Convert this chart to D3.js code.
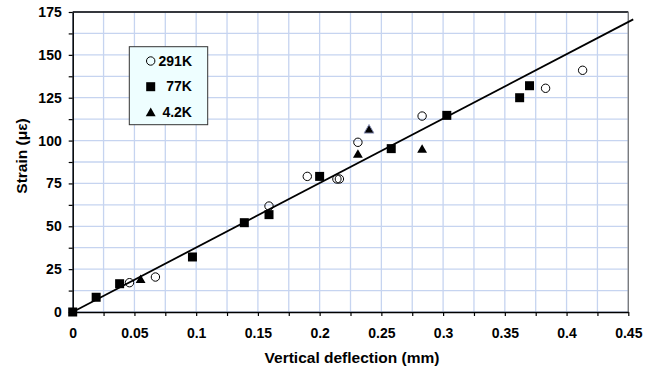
<!DOCTYPE html>
<html>
<head>
<meta charset="utf-8">
<script src="https://cdn.jsdelivr.net/npm/d3@7"></script>
<style>
  body { margin: 0; background: #fff; }
  svg { display: block; font-family: "Liberation Sans", Arial, sans-serif; font-weight: bold; }
</style>
</head>
<body>
<svg id="chart" width="669" height="369"></svg>
<script>
// data
var x291 = [0.046, 0.067, 0.159, 0.190, 0.214, 0.216, 0.231, 0.283, 0.383, 0.413];
var y291 = [17.1, 20.4, 61.8, 79.1, 77.6, 77.6, 99.0, 114.3, 130.5, 141.0];
var x77 = [0, 0.019, 0.038, 0.097, 0.139, 0.159, 0.200, 0.258, 0.303, 0.362, 0.370];
var y77 = [0, 8.6, 16.5, 32.1, 52.1, 56.8, 79.1, 95.3, 114.7, 125.0, 132.0];
var x4 = [0.055, 0.231, 0.240, 0.283];
var y4 = [19.2, 92.2, 106.6, 95.1];
var fitX = [0, 0.454];
var fitY = [0, 170.7];
var xTicks = [0, 0.05, 0.1, 0.15, 0.2, 0.25, 0.3, 0.35, 0.4, 0.45];
var yTicks = [0, 25, 50, 75, 100, 125, 150, 175];
var legendLabels = ["291K", "77K", "4.2K"];

var margin = {top: 12, right: 40.7, bottom: 57, left: 72.7},
    width = 669 - margin.left - margin.right,
    height = 369 - margin.top - margin.bottom;

var svg = d3.select("#chart");
var g = svg.append("g")
    .attr("transform", "translate(" + margin.left + "," + margin.top + ")");

var x = d3.scaleLinear().domain([0, 0.45]).range([0, width]);
var y = d3.scaleLinear().domain([0, 175]).range([height, 0]);

// grid every half major step
var xMinor = d3.range(0, 0.4501, 0.025);
var yMinor = d3.range(0, 175.01, 12.5);

g.selectAll(".vgrid").data(xMinor).enter().append("line")
    .attr("x1", d => x(d)).attr("x2", d => x(d))
    .attr("y1", 0).attr("y2", height)
    .attr("stroke", "#c6d4f0").attr("stroke-width", 1.3);
g.selectAll(".hgrid").data(yMinor).enter().append("line")
    .attr("x1", 0).attr("x2", width)
    .attr("y1", d => y(d)).attr("y2", d => y(d))
    .attr("stroke", "#c6d4f0").attr("stroke-width", 1.3);

// frame
g.append("line").attr("x1", 0).attr("x2", width).attr("y1", 0).attr("y2", 0)
    .attr("stroke", "#000").attr("stroke-width", 1.3);
g.append("line").attr("x1", width).attr("x2", width).attr("y1", 0).attr("y2", height)
    .attr("stroke", "#777").attr("stroke-width", 1.3);

// axes
var xAxis = g.append("g")
    .attr("transform", "translate(0," + height + ")")
    .call(d3.axisBottom(x).tickValues(xMinor).tickSize(4).tickSizeOuter(0).tickPadding(12)
        .tickFormat(d => xTicks.some(t => Math.abs(t - d) < 1e-9) ? d3.format("~g")(d) : ""));
var yAxis = g.append("g")
    .call(d3.axisLeft(y).tickValues(yMinor).tickSize(4).tickSizeOuter(0).tickPadding(7)
        .tickFormat(d => yTicks.indexOf(d) >= 0 ? d : ""));
[xAxis, yAxis].forEach(function(a) {
    a.select(".domain").attr("stroke", "#000").attr("stroke-width", 1.5);
    a.selectAll(".tick line").attr("stroke", "#000").attr("stroke-width", 1.2);
    a.selectAll(".tick text").attr("fill", "#000")
        .style("font-size", "14px").style("font-weight", "bold")
        .style("font-family", "'Liberation Sans', Arial, sans-serif");
});

// fit line
g.append("line")
    .attr("x1", x(fitX[0])).attr("y1", y(fitY[0]))
    .attr("x2", x(fitX[1])).attr("y2", y(fitY[1]))
    .attr("stroke", "#000").attr("stroke-width", 1.8);

var tri = d3.symbol().type(d3.symbolTriangle).size(42);

// 77K squares
g.selectAll(".sq").data(x77).enter().append("rect")
    .attr("x", (d, i) => x(d) - 4.5).attr("y", (d, i) => y(y77[i]) - 4.5)
    .attr("width", 9).attr("height", 9).attr("fill", "#000");

// 4.2K triangles
g.selectAll(".tri").data(x4).enter().append("path")
    .attr("d", tri)
    .attr("transform", (d, i) => "translate(" + x(d) + "," + (y(y4[i]) + 1) + ")")
    .attr("fill", "#000")
    .attr("stroke", (d, i) => i === 2 ? "#8c93b8" : "none").attr("stroke-width", 1);

// 291K circles
g.selectAll(".circ").data(x291).enter().append("circle")
    .attr("cx", d => x(d)).attr("cy", (d, i) => y(y291[i]))
    .attr("r", 4.2).attr("fill", "none").attr("stroke", "#000").attr("stroke-width", 1);

// legend
var lg = svg.append("g").attr("transform", "translate(129.3,46.7)");
lg.append("rect").attr("width", 78.4).attr("height", 78)
    .attr("fill", "#eefeff").attr("stroke", "#333").attr("stroke-width", 1);
lg.append("circle").attr("cx", 21.4).attr("cy", 14.3).attr("r", 4.2)
    .attr("fill", "none").attr("stroke", "#000");
lg.append("rect").attr("x", 21.4 - 4.5).attr("y", 40 - 4.5).attr("width", 9).attr("height", 9).attr("fill", "#000");
lg.append("path").attr("d", tri).attr("transform", "translate(21.4,66.6)").attr("fill", "#000");
lg.selectAll(".lt").data(legendLabels).enter().append("text")
    .attr("x", 62.7).attr("y", (d, i) => 19 + i * 25.6)
    .attr("text-anchor", "end").style("font-size", "14px").text(d => d);

// axis titles
svg.append("text").attr("x", 352).attr("y", 363).attr("text-anchor", "middle")
    .style("font-size", "15.5px").text("Vertical deflection (mm)");
svg.append("text").attr("transform", "translate(27,156) rotate(-90)").attr("text-anchor", "middle")
    .style("font-size", "15.5px").text("Strain (με)");
</script>
</body>
</html>
